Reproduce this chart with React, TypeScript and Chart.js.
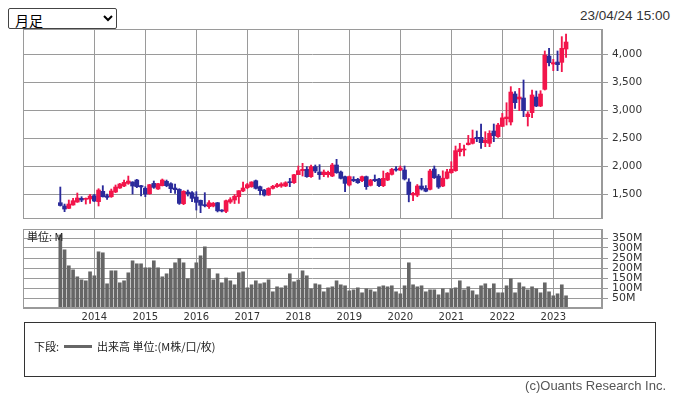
import { useEffect, useRef } from 'react';
import { Chart, registerables } from 'chart.js';
Chart.register(...registerables);

// ---- data (monthly candles, May 2013 - Apr 2023) ----
const START_YEAR = 2013;
const START_MONTH = 5;
const months: string[] = Array.from({ length: 120 }, (_, i) => {
  const m = START_MONTH - 1 + i;
  return `${START_YEAR + Math.floor(m / 12)}/${String((m % 12) + 1).padStart(2, '0')}`;
});

const opens = [
  1345, 1286, 1244, 1304, 1357, 1423, 1405, 1411, 1470, 1363, 1548, 1470, 1452, 1536, 1607, 1643, 1690, 1714, 1750, 1649,
  1601, 1506, 1690, 1589, 1649, 1726, 1685, 1607, 1583, 1327, 1536, 1524, 1446, 1387, 1310, 1274, 1286, 1345, 1214, 1190,
  1357, 1393, 1452, 1554, 1613, 1631, 1738, 1631, 1571, 1482, 1601, 1631, 1643, 1643, 1720, 1702, 1845, 1917, 1940, 1810,
  1988, 1893, 1845, 1845, 1821, 2018, 1893, 1810, 1661, 1762, 1762, 1738, 1810, 1655, 1762, 1768, 1649, 1750, 1851, 1946,
  1928, 1929, 1714, 1482, 1480, 1643, 1601, 1583, 1946, 1821, 1643, 1780, 1881, 1917, 2256, 2286, 2381, 2405, 2512, 2512,
  2417, 2405, 2625, 2524, 2708, 2845, 2786, 3286, 3196, 3214, 2881, 2952, 3232, 3071, 3369, 3964, 3821, 3857, 3851, 4089,
];
const highs = [
  1625, 1321, 1393, 1423, 1518, 1452, 1430, 1494, 1494, 1595, 1649, 1500, 1589, 1661, 1690, 1750, 1821, 1720, 1762, 1655,
  1630, 1673, 1732, 1690, 1768, 1750, 1702, 1679, 1595, 1560, 1571, 1542, 1542, 1393, 1524, 1381, 1350, 1350, 1220, 1390,
  1435, 1490, 1560, 1714, 1690, 1720, 1750, 1643, 1583, 1613, 1655, 1690, 1702, 1720, 1780, 1851, 2000, 2048, 1988, 2018,
  2018, 2024, 1929, 1910, 2048, 2119, 1911, 1821, 1821, 1810, 1780, 1821, 1821, 1762, 1840, 1780, 1911, 1887, 1958, 1988,
  2000, 2000, 1774, 1530, 1670, 1780, 1650, 1940, 2000, 1850, 1915, 1940, 2077, 2357, 2405, 2375, 2547, 2643, 2625, 2750,
  2613, 2631, 2750, 2762, 2940, 3130, 3417, 3327, 3387, 3536, 2970, 3357, 3339, 3345, 4054, 4101, 3905, 4054, 4310, 4357,
];
const lows = [
  1285, 1185, 1240, 1300, 1351, 1363, 1321, 1333, 1363, 1286, 1446, 1405, 1440, 1524, 1600, 1630, 1673, 1500, 1613, 1464,
  1452, 1494, 1601, 1583, 1643, 1630, 1524, 1512, 1315, 1310, 1464, 1363, 1214, 1167, 1270, 1244, 1270, 1180, 1180, 1165,
  1333, 1330, 1333, 1542, 1595, 1620, 1589, 1482, 1464, 1476, 1589, 1619, 1619, 1631, 1631, 1690, 1845, 1821, 1798, 1798,
  1881, 1762, 1810, 1800, 1810, 1869, 1768, 1542, 1643, 1720, 1690, 1720, 1583, 1643, 1720, 1631, 1631, 1738, 1839, 1910,
  1917, 1750, 1360, 1381, 1452, 1571, 1540, 1571, 1777, 1600, 1631, 1770, 1869, 1905, 2179, 2179, 2375, 2393, 2435, 2315,
  2345, 2345, 2435, 2512, 2702, 2732, 2732, 3030, 2988, 2881, 2714, 2863, 3060, 3060, 3357, 3786, 3702, 3702, 3685, 3940,
];
const closes = [
  1295, 1232, 1321, 1381, 1429, 1393, 1423, 1464, 1375, 1571, 1452, 1440, 1554, 1625, 1679, 1708, 1732, 1643, 1631, 1625,
  1500, 1667, 1619, 1685, 1750, 1649, 1595, 1577, 1333, 1548, 1506, 1423, 1351, 1298, 1290, 1345, 1333, 1200, 1196, 1381,
  1400, 1460, 1560, 1607, 1667, 1714, 1601, 1560, 1482, 1601, 1637, 1667, 1679, 1702, 1702, 1845, 1917, 1940, 1810, 1988,
  1911, 1845, 1893, 1887, 2018, 1881, 1780, 1690, 1810, 1738, 1702, 1810, 1631, 1750, 1738, 1649, 1780, 1869, 1940, 1928,
  1964, 1768, 1490, 1512, 1643, 1590, 1550, 1911, 1792, 1625, 1783, 1896, 1943, 2274, 2304, 2304, 2410, 2494, 2488, 2417,
  2464, 2583, 2542, 2732, 2860, 2875, 3321, 3131, 3232, 2988, 2929, 3268, 3071, 3286, 3982, 3845, 3845, 3810, 4101, 4214,
];
// volume in millions
const volumes = [
  365, 291, 211, 191, 156, 141, 136, 181, 161, 281, 276, 121, 186, 186, 126, 136, 176, 236, 221, 221,
  201, 201, 236, 201, 156, 171, 196, 226, 248, 226, 146, 196, 226, 261, 306, 196, 141, 171, 126, 150,
  136, 116, 176, 181, 101, 116, 136, 121, 126, 141, 81, 106, 101, 111, 171, 131, 140, 186, 161, 96,
  121, 116, 81, 101, 106, 136, 116, 111, 86, 91, 101, 76, 96, 91, 81, 106, 111, 106, 111, 81,
  71, 111, 226, 116, 106, 111, 81, 91, 91, 66, 96, 76, 96, 101, 136, 91, 106, 86, 66, 111,
  121, 96, 121, 76, 76, 111, 146, 76, 126, 106, 91, 106, 96, 76, 126, 81, 61, 71, 116, 61,
];
const priceTicks = [1500, 2000, 2500, 3000, 3500, 4000];
const volumeTicks = [50, 100, 150, 200, 250, 300, 350];
const yearTickIdx = months.map((m, i) => (m.endsWith('/01') ? i : -1)).filter((i) => i >= 0);

const UP = '#f2154b';
const DOWN = '#2b2b9b';
const GRID = '#9a9a9a';
const X_MIN = -8.78;
const X_MAX = 127.46;

const frame = {
  id: 'frame',
  afterDraw(chart: any) {
    const { ctx, chartArea: a } = chart;
    ctx.save();
    ctx.strokeStyle = GRID;
    ctx.lineWidth = 1;
    ctx.strokeRect(Math.round(a.left) + 0.5, Math.round(a.top) + 0.5, Math.round(a.right - a.left) - 1, Math.round(a.bottom - a.top) - 1);
    ctx.restore();
  },
};

function zeroPad(s: any) {
  s.paddingTop = 0;
  s.paddingBottom = 0;
  s.paddingLeft = 0;
  s.paddingRight = 0;
}

function xScale(showLabels: boolean) {
  return {
    type: 'linear',
    min: X_MIN,
    max: X_MAX,
    offset: false,
    grid: { color: GRID, drawTicks: false, offset: false },
    border: { display: true, color: GRID },
    ticks: {
      display: showLabels,
      autoSkip: false,
      maxRotation: 0,
      padding: 3,
      color: '#333',
      font: { family: 'DejaVu Sans', size: 10 },
      callback: (v: any) => {
        const m = months[Math.round(Number(v))];
        return m ? m.slice(0, 4) : '';
      },
    },
    afterBuildTicks: (s: any) => {
      s.ticks = yearTickIdx.map((v) => ({ value: v }));
    },
    afterFit: (s: any) => {
      s.height = showLabels ? 18 : 0;
      zeroPad(s);
    },
  };
}

function yScale(min: number, max: number, ticks: number[], size: number, fmt: (v: number) => string) {
  return {
    position: 'right',
    min,
    max,
    grid: { color: GRID, tickLength: 6 },
    border: { display: true, color: GRID },
    ticks: {
      autoSkip: false,
      padding: 4,
      color: '#333',
      font: { family: 'DejaVu Sans', size },
      callback: (v: any) => fmt(Number(v)),
    },
    afterBuildTicks: (s: any) => {
      s.ticks = ticks.map((v) => ({ value: v }));
    },
    afterFit: (s: any) => {
      s.width = 74;
      zeroPad(s);
    },
  };
}

export default function App() {
  const priceRef = useRef<HTMLCanvasElement>(null);
  const volRef = useRef<HTMLCanvasElement>(null);

  useEffect(() => {
    const colors = closes.map((c, i) => (c >= opens[i] ? UP : DOWN));
    const price = new Chart(priceRef.current!, {
      type: 'bar',
      data: {
        datasets: [
          {
            data: months.map((_, i) => ({ x: i, y: [opens[i], closes[i]] })) as any,
            backgroundColor: colors,
            barThickness: 4,
            minBarLength: 1,
            grouped: false,
            borderWidth: 0,
          },
          {
            data: months.map((_, i) => ({ x: i, y: [lows[i], highs[i]] })) as any,
            backgroundColor: colors,
            barThickness: 1.2,
            grouped: false,
            borderWidth: 0,
          },
        ],
      },
      options: {
        responsive: false,
        animation: false,
        events: [],
        layout: { padding: { left: 23, top: 29, right: 0, bottom: 0 } },
        plugins: { legend: { display: false }, tooltip: { enabled: false } },
        scales: {
          x: xScale(false) as any,
          y: yScale(1054, 4446.4, priceTicks, 10.5, (v) => v.toLocaleString('en-US')) as any,
        },
      },
      plugins: [frame],
    });

    const vol = new Chart(volRef.current!, {
      type: 'bar',
      data: {
        datasets: [
          {
            data: months.map((_, i) => ({ x: i, y: volumes[i] })) as any,
            backgroundColor: '#666666',
            barThickness: 3,
            grouped: false,
            borderWidth: 0,
          },
        ],
      },
      options: {
        responsive: false,
        animation: false,
        events: [],
        layout: { padding: { left: 23, top: 8, right: 0, bottom: 0 } },
        plugins: { legend: { display: false }, tooltip: { enabled: false } },
        scales: {
          x: xScale(true) as any,
          y: yScale(0, 395, volumeTicks, 11, (v) => `${v}M`) as any,
        },
      },
      plugins: [frame],
    });

    return () => {
      price.destroy();
      vol.destroy();
    };
  }, []);

  const jp = '"Noto Sans CJK JP", sans-serif';
  return (
    <div style={{ position: 'absolute', left: 0, top: 0, width: 676, height: 396, background: '#fff', overflow: 'hidden' }}>
      <select
        defaultValue="m"
        style={{
          position: 'absolute', left: 8, top: 8, width: 109, height: 21, fontSize: 14, fontFamily: jp,
          border: '1px solid #444', borderRadius: 2, background: '#fff', color: '#000', padding: '0 0 0 2px',
        }}
      >
        <option value="m">月足</option>
      </select>
      <div style={{ position: 'absolute', right: 6, top: 8, fontFamily: '"Liberation Sans", Arial, sans-serif', fontSize: 13.5, color: '#333' }}>
        23/04/24 15:00
      </div>
      <canvas ref={priceRef} width={676} height={219} style={{ position: 'absolute', left: 0, top: 0 }} />
      <canvas ref={volRef} width={676} height={105} style={{ position: 'absolute', left: 0, top: 221 }} />
      <div style={{ position: 'absolute', left: 27, top: 230, fontFamily: jp, fontSize: 11, color: '#222', lineHeight: '13px' }}>
        単位: M
      </div>
      <div style={{ position: 'absolute', left: 24, top: 322, width: 630, height: 53, border: '1px solid #333' }}>
        <div style={{ position: 'absolute', left: 9, top: 15, fontFamily: jp, fontSize: 11, color: '#222', display: 'flex', alignItems: 'center', whiteSpace: 'nowrap' }}>
          <span>下段:</span>
          <span style={{ display: 'inline-block', width: 28, height: 3, background: '#666', margin: '0 5px 0 5px' }} />
          <span>出来高 単位:(M株/口/枚)</span>
        </div>
      </div>
      <div style={{ position: 'absolute', right: 10, top: 378, fontFamily: '"Liberation Sans", Arial, sans-serif', fontSize: 13, color: '#555' }}>
        (c)Ouants Research Inc.
      </div>
    </div>
  );
}
